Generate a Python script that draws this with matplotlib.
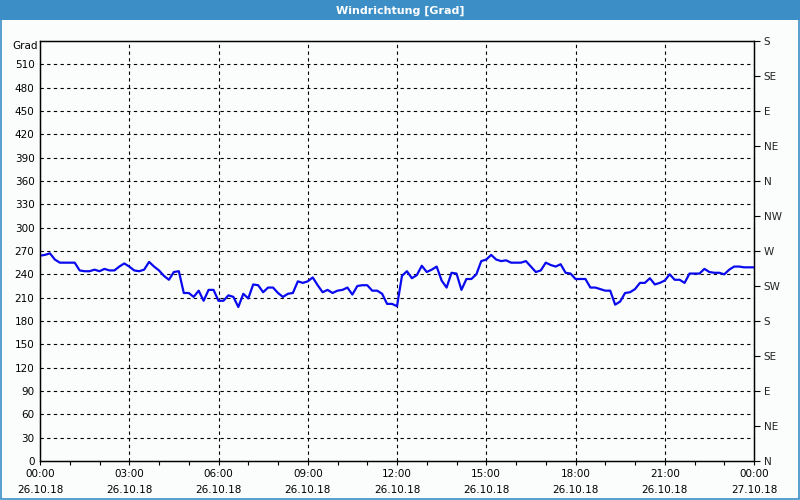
import matplotlib
matplotlib.use("Agg")
import matplotlib.pyplot as plt
from matplotlib.patches import Rectangle
import numpy as np

# wind direction, one reading every 10 minutes from 26.10.18 00:00
step_min = 10
richtung = [264, 265, 267, 259, 255, 255, 255, 255, 245, 244,
            244, 246, 244, 247, 245, 245, 250, 254, 250, 245,
            244, 246, 256, 250, 245, 238, 233, 243, 244, 216,
            216, 211, 219, 206, 220, 220, 206, 206, 213, 211,
            198, 215, 209, 227, 226, 217, 223, 223, 216, 211,
            215, 216, 231, 229, 231, 236, 226, 217, 220, 216,
            219, 220, 223, 214, 225, 226, 226, 219, 219, 215,
            202, 202, 199, 238, 244, 235, 239, 251, 243, 246,
            250, 232, 223, 242, 241, 220, 234, 234, 240, 257,
            259, 265, 259, 257, 258, 255, 255, 255, 257, 250,
            243, 245, 255, 252, 250, 253, 242, 241, 234, 234,
            234, 223, 223, 221, 219, 219, 201, 205, 216, 217,
            221, 229, 229, 235, 227, 229, 232, 240, 233, 233,
            229, 241, 241, 241, 247, 243, 242, 242, 240, 246,
            250, 250, 249, 249, 249]

x_ticks = [0, 3, 6, 9, 12, 15, 18, 21, 24]
x_labels = ["00:00\n26.10.18", "03:00\n26.10.18", "06:00\n26.10.18",
            "09:00\n26.10.18", "12:00\n26.10.18", "15:00\n26.10.18",
            "18:00\n26.10.18", "21:00\n26.10.18", "00:00\n27.10.18"]
y_ticks = list(range(0, 511, 30))
dir_ticks = list(range(0, 541, 45))
dir_labels = ["N", "NE", "E", "SE", "S", "SW", "W", "NW",
              "N", "NE", "E", "SE", "S"]

stunden = np.arange(len(richtung)) * step_min / 60.0

bg = "#fbfdfd"
fig = plt.figure(figsize=(8, 5), dpi=100, facecolor=bg)

# title bar
fig.patches.append(Rectangle((0, 0.96), 1, 0.04, transform=fig.transFigure,
                             facecolor="#3c8fc6", edgecolor="none", zorder=0))
fig.patches.append(Rectangle((0.0008, 0.0012), 0.9984, 0.9976, transform=fig.transFigure,
                             facecolor="none", edgecolor="#3c8fc6", lw=1.2, zorder=5))
fig.text(0.5, 0.979, "Windrichtung [Grad]", color="white", fontsize=8,
         fontweight="bold", ha="center", va="center")

ax = fig.add_axes([0.05, 0.078, 0.8925, 0.84])
ax.set_facecolor(bg)
ax.plot(stunden, richtung, color="#0a0aef", lw=1.6, zorder=3)

ax.set_xlim(0, 24)
ax.set_ylim(0, 540)

ax.set_xticks(x_ticks)
ax.set_xticklabels(x_labels, fontsize=7.5, linespacing=1.75)
ax.set_xticks(range(0, 25), minor=True)
ax.tick_params(axis="x", which="both", direction="out", length=3, width=0.8, pad=3)
ax.set_yticks(y_ticks)
ax.set_yticklabels([str(v) for v in y_ticks], fontsize=7.5)
ax.tick_params(axis="y", length=0, pad=4)

for v in y_ticks[1:]:
    ax.axhline(v, color="black", lw=0.8, ls=(0, (3, 3)), zorder=1)
for h in x_ticks[1:-1]:
    ax.axvline(h, color="black", lw=0.8, ls=(0, (3, 3)), zorder=1)

for s in ax.spines.values():
    s.set_color("black")
    s.set_linewidth(1)

ax2 = ax.twinx()
ax2.set_ylim(0, 540)
ax2.set_yticks(dir_ticks)
ax2.set_yticklabels(dir_labels, fontsize=7.5, color="#222222")
ax2.tick_params(axis="y", direction="out", length=4, width=0.8, pad=3)

fig.text(0.047, 0.908, "Grad", fontsize=7.5, ha="right", va="center")

fig.savefig("out.png", dpi=100, facecolor=bg)
